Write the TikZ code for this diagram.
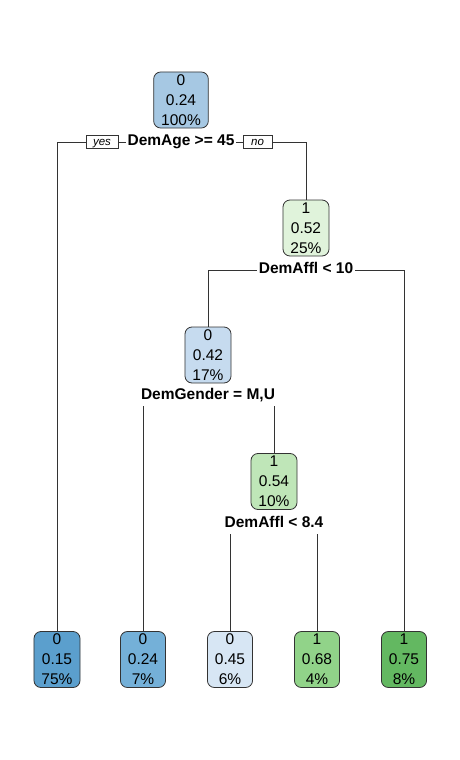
\documentclass[tikz,border=0pt]{standalone}
\usepackage{fontspec}
\setmainfont{Liberation Sans}
\usetikzlibrary{backgrounds}
\definecolor{cRoot}{HTML}{A6C8E3}
\definecolor{cNtwo}{HTML}{E0F3DB}
\definecolor{cNthree}{HTML}{C6DBEF}
\definecolor{cNfour}{HTML}{BFE6B8}
\definecolor{cLone}{HTML}{5B9FCD}
\definecolor{cLtwo}{HTML}{74B0D8}
\definecolor{cLthree}{HTML}{D7E6F4}
\definecolor{cLfour}{HTML}{91D389}
\definecolor{cLfive}{HTML}{63B861}
\definecolor{cEdge}{HTML}{333333}
\tikzset{
  treebox/.style={draw=cEdge, line width=0.8pt, rounded corners=7pt, align=center,
    font=\fontsize{15.5}{20}\selectfont, inner xsep=7.5pt, inner ysep=0pt,
    minimum height=56pt, minimum width=45pt},
  splitlabel/.style={fill=white, inner xsep=2pt, inner ysep=2.5pt,
    font=\fontsize{15.5}{18}\selectfont\bfseries, text height=11pt, text depth=3.5pt},
  yesno/.style={draw=cEdge, fill=white, line width=0.6pt, inner sep=0pt,
    font=\fontsize{11.5}{13}\selectfont\itshape, minimum height=13pt, text height=8.5pt, text depth=2pt},
  edge/.style={draw=cEdge, line width=0.8pt}
}
\begin{document}
\begin{tikzpicture}[x=1pt, y=-1pt]
\useasboundingbox (0,0) rectangle (460,760);
% inner nodes
\node[treebox, fill=cRoot, minimum width=54pt] (root) at (181,100) {0\\0.24\\100\%};
\node[splitlabel] (s1) at (181,142) {DemAge >= 45};
\node[yesno, minimum width=32pt] (yes) at (102,142) {yes};
\node[yesno, minimum width=29pt] (no) at (257.5,142) {no};
\node[treebox, fill=cNtwo] (n2) at (306,228) {1\\0.52\\25\%};
\node[splitlabel] (s2) at (306,270) {DemAffl < 10};
\node[treebox, fill=cNthree] (n3) at (208,355) {0\\0.42\\17\%};
\node[splitlabel] (s3) at (208,396) {DemGender = M,U};
\node[treebox, fill=cNfour] (n4) at (274,481.5) {1\\0.54\\10\%};
\node[splitlabel] (s4) at (274,524) {DemAffl < 8.4};
% leaves
\node[treebox, fill=cLone] (l1) at (57,659.5) {0\\0.15\\75\%};
\node[treebox, fill=cLtwo] (l2) at (143,659.5) {0\\0.24\\7\%};
\node[treebox, fill=cLthree] (l3) at (230,659.5) {0\\0.45\\6\%};
\node[treebox, fill=cLfour] (l4) at (317,659.5) {1\\0.68\\4\%};
\node[treebox, fill=cLfive] (l5) at (404,659.5) {1\\0.75\\8\%};
% connectors behind
\begin{scope}[on background layer]
\draw[edge] (s1.center) -| (l1.north);
\draw[edge] (s1.center) -| (n2.north);
\draw[edge] (s2.center) -| (n3.north);
\draw[edge] (s2.center) -| (l5.north);
\draw[edge] (s3.center) -| (l2.north);
\draw[edge] (s3.center) -| (n4.north);
\draw[edge] (s4.center) -| (l3.north);
\draw[edge] (s4.center) -| (l4.north);
\end{scope}
\end{tikzpicture}
\end{document}
